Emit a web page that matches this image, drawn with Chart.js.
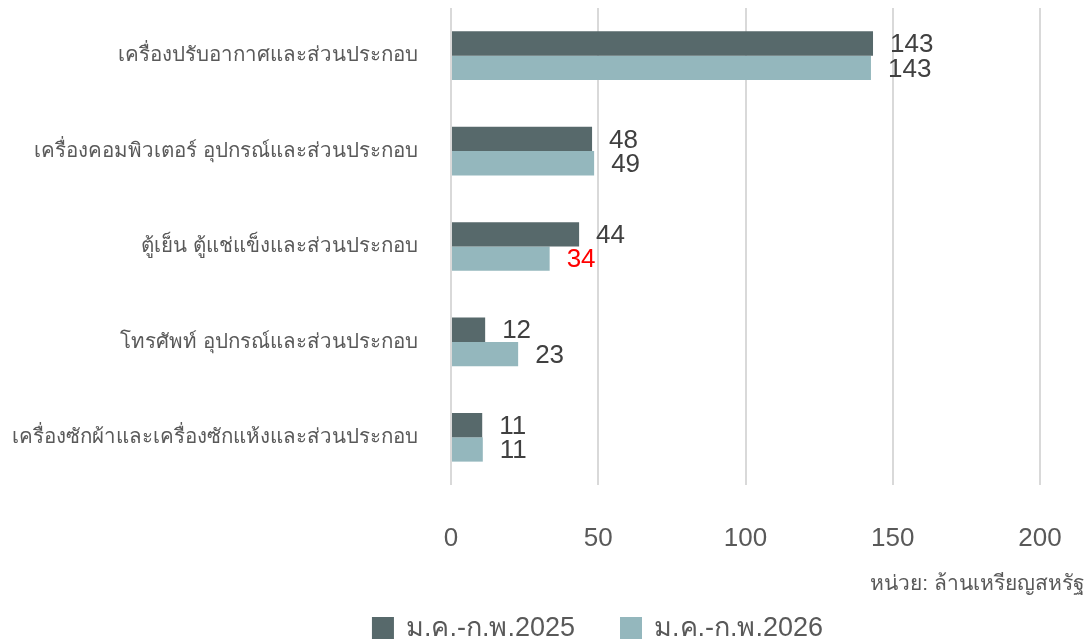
<!DOCTYPE html>
<html>
<head>
<meta charset="utf-8">
<script src="https://cdn.jsdelivr.net/npm/chart.js@4.4.1/dist/chart.umd.min.js"></script>
<style>
html,body{margin:0;padding:0;background:#fff;}
#wrap{width:1089px;height:643px;position:relative;}
</style>
</head>
<body>
<div id="wrap"><canvas id="c"></canvas></div>
<script>
const categories = [
  "เครื่องปรับอากาศและส่วนประกอบ",
  "เครื่องคอมพิวเตอร์ อุปกรณ์และส่วนประกอบ",
  "ตู้เย็น ตู้แช่แข็งและส่วนประกอบ",
  "โทรศัพท์ อุปกรณ์และส่วนประกอบ",
  "เครื่องซักผ้าและเครื่องซักแห้งและส่วนประกอบ"
];
const seriesNames = ["ม.ค.-ก.พ.2025", "ม.ค.-ก.พ.2026"];
const values2025 = [143.3, 47.9, 43.5, 11.6, 10.6];
const values2026 = [142.6, 48.6, 33.5, 22.8, 10.8];
const xTicks = [0, 50, 100, 150, 200];
const unitText = "หน่วย: ล้านเหรียญสหรัฐ";

const FONT = "Arial, 'Liberation Sans', 'Noto Sans', sans-serif";

const valueLabels = {
  id: 'valueLabels',
  afterDatasetsDraw(chart) {
    const ctx = chart.ctx;
    ctx.save();
    ctx.font = "26px " + FONT;
    ctx.textAlign = 'left';
    ctx.textBaseline = 'middle';
    chart.data.datasets.forEach((ds, di) => {
      const meta = chart.getDatasetMeta(di);
      meta.data.forEach((bar, i) => {
        const v = ds.data[i];
        let color = '#404040';
        if (di === 1 && Math.round(values2026[i]) < Math.round(values2025[i])) color = '#FF0000';
        ctx.fillStyle = color;
        ctx.fillText(String(Math.round(v)), bar.x + 17, bar.y + 1.5);
      });
    });
    ctx.restore();
  }
};

const footer = {
  id: 'footer',
  afterDraw(chart) {
    const ctx = chart.ctx;
    ctx.save();
    ctx.font = "21px " + FONT;
    ctx.fillStyle = '#595959';
    ctx.textAlign = 'right';
    ctx.textBaseline = 'middle';
    ctx.fillText(unitText, 1085, 584);
    const box = 22, textGap = 12, itemGap = 45;
    ctx.font = "27px " + FONT;
    const items = chart.data.datasets.map(ds => ({
      label: ds.label, color: ds.backgroundColor, w: ctx.measureText(ds.label).width
    }));
    let total = 0;
    items.forEach((it, i) => { total += box + textGap + it.w + (i ? itemGap : 0); });
    let x = 597.5 - total / 2;
    const cy = 628;
    ctx.textAlign = 'left';
    items.forEach((it) => {
      ctx.fillStyle = it.color;
      ctx.fillRect(x, cy - box / 2, box, box);
      ctx.fillStyle = '#595959';
      ctx.fillText(it.label, x + box + textGap, cy + 1);
      x += box + textGap + it.w + itemGap;
    });
    ctx.restore();
  }
};

new Chart(document.getElementById('c'), {
  type: 'bar',
  data: {
    labels: categories,
    datasets: [
      { label: seriesNames[0], data: values2025, backgroundColor: '#57696B', borderWidth: 0 },
      { label: seriesNames[1], data: values2026, backgroundColor: '#94B7BD', borderWidth: 0 }
    ]
  },
  options: {
    indexAxis: 'y',
    responsive: true,
    maintainAspectRatio: false,
    devicePixelRatio: 1,
    animation: false,
    datasets: { bar: { categoryPercentage: 0.51, barPercentage: 1.0 } },
    layout: { padding: { left: 0, right: 49, top: 8, bottom: 88 } },
    scales: {
      x: {
        min: 0, max: 200,
        afterBuildTicks(scale) { scale.ticks = xTicks.map(v => ({ value: v })); },
        afterFit(scale) { scale.height = 70; scale.paddingLeft = 0; scale.paddingRight = 0; },
        grid: { color: '#D9D9D9', lineWidth: 2, drawTicks: false },
        border: { display: false },
        ticks: { color: '#595959', font: { family: FONT, size: 26 }, padding: 38, maxRotation: 0 }
      },
      y: {
        afterFit(scale) { scale.width = 451; scale.paddingTop = 0; scale.paddingBottom = 0; },
        grid: { display: false, drawTicks: false },
        border: { display: false },
        ticks: { color: '#595959', font: { family: FONT, size: 20.5 }, padding: 33 }
      }
    },
    plugins: {
      tooltip: { enabled: false },
      title: { display: false },
      legend: { display: false }
    }
  },
  plugins: [valueLabels, footer]
});
</script>
</body>
</html>
